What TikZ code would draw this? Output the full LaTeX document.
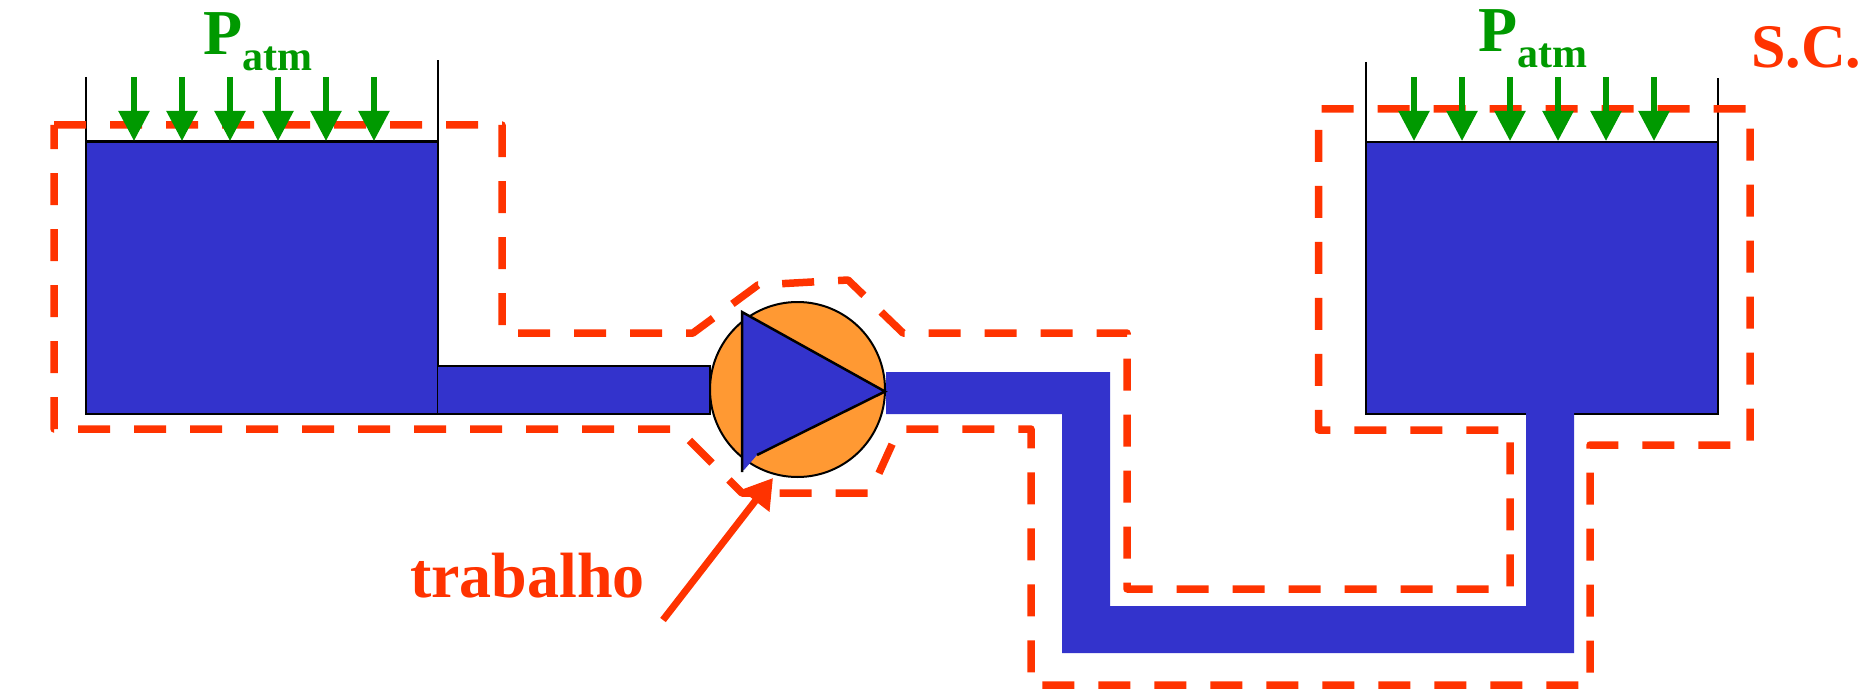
\documentclass[tikz,border=0pt]{standalone}
\usepackage{xcolor}
\usepackage{fontspec}
\setmainfont{Liberation Serif}
\usetikzlibrary{arrows.meta,positioning}
\definecolor{WaterBlue}{RGB}{51,51,204}
\definecolor{PumpOrange}{RGB}{255,153,51}
\definecolor{SurfRed}{RGB}{255,51,0}
\definecolor{AtmGreen}{RGB}{0,153,0}
\tikzset{
  tankline/.style={draw=black,line width=2.5pt},
  water/.style={fill=WaterBlue,draw=none},
  surface/.style={draw=SurfRed,line width=7.5pt,line join=round,dash pattern=on 32pt off 24pt},
  atmarrow/.style={draw=AtmGreen,line width=5.5pt,-{Triangle[length=30pt,width=30pt,fill=AtmGreen]}},
  bigtext/.style={font=\fontsize{64}{64}\selectfont\bfseries,inner sep=0pt,anchor=base west},
  subtext/.style={font=\fontsize{42}{42}\selectfont\bfseries,inner sep=0pt,anchor=base west}
}
\begin{document}
\begin{tikzpicture}[x=1pt,y=-1pt]
  \useasboundingbox (0,0) rectangle (1862,690);

  \fill[water] (86,141.5) rectangle (438,414);
  \fill[water] (1366,141.5) rectangle (1718,414);
  \draw[tankline] (86,77) -- (86,414) -- (438,414) -- (438,60);
  \draw[tankline] (86,141.5) -- (438,141.5);
  \draw[tankline] (1366,62) -- (1366,414) -- (1718,414) -- (1718,78);
  \draw[tankline] (1366,142) -- (1718,142);

  \draw[tankline,fill=WaterBlue] (438,366) -- (710,366) -- (710,414) -- (438,414);
  \fill[water] (886,372) -- (1110,372) -- (1110,606) -- (1526,606) -- (1526,413)
    -- (1574,413) -- (1574,653) -- (1062,653) -- (1062,414) -- (886,414) -- cycle;

  \node[
    circle,
    draw=black,
    line width=2pt,
    fill=PumpOrange,
    minimum size=175pt,
    inner sep=0pt
  ] (pump) at (797.5,389.5) {};
  \fill[water] (742,312) -- (885,391.5) -- (757,455) -- (744,470) -- (742,470) -- cycle;
  \draw[tankline] (742,472) -- (742,312) -- (885,391.5) -- (757,455);

  \draw[surface] (54,125) -- (502,125) -- (502,333) -- (693,333) -- (758,285)
    -- (848,280) -- (903,333) -- (1127,333) -- (1127,589)
    -- (1510,589) -- (1510,430) -- (1318.5,430) -- (1318.5,109) -- (1750,109)
    -- (1750,445) -- (1590,445) -- (1590,685) -- (1031,685) -- (1031,429)
    -- (899,429) -- (870,493) -- (742,493) -- (678,429)
    -- (54,429) -- (54,125);

  \foreach \px in {134,182,230,278,326,374} {
    \draw[atmarrow] (\px,77) -- (\px,141);
  }
  \foreach \px in {1414,1462,1510,1558,1606,1654} {
    \draw[atmarrow] (\px,77) -- (\px,141);
  }

  \node[bigtext,text=AtmGreen] (patmleft) at (203,55) {P};
  \node[subtext,text=AtmGreen] (atmleft) at (242,71) {atm};
  \node[bigtext,text=AtmGreen] (patmright) at (1478,52) {P};
  \node[subtext,text=AtmGreen] (atmright) at (1517,68) {atm};
  \node[bigtext,text=SurfRed,font=\fontsize{62}{62}\selectfont\bfseries] (sc) at (1751,68) {S.C.};
  \node[bigtext,text=SurfRed] (trabalho) at (410,597) {trabalho};

  \coordinate (workstart) at (663,620);
  \coordinate (worktip) at (773,478);
  \draw[draw=SurfRed,line width=7pt,-{Triangle[length=29pt,width=34pt,fill=SurfRed]}] (workstart) -- (worktip);
\end{tikzpicture}
\end{document}
